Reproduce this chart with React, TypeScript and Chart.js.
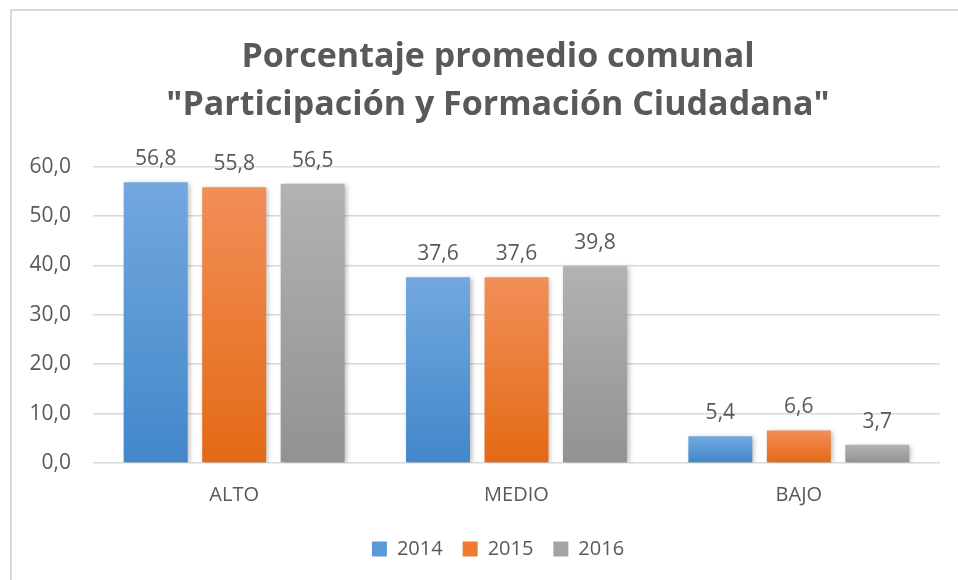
import React, { useEffect, useRef } from "react";
import { Chart, registerables } from "chart.js";

Chart.register(...registerables);

const categories = ["ALTO", "MEDIO", "BAJO"];
const seriesLabels = ["2014", "2015", "2016"];
const values2014 = [56.8, 37.6, 5.4];
const values2015 = [55.8, 37.6, 6.6];
const values2016 = [56.5, 39.8, 3.7];
const yTickValues = [0, 10, 20, 30, 40, 50, 60];
const titleLines = ["Porcentaje promedio comunal", "\"Participación y Formación Ciudadana\""];

const gradientStops = [
  ["#72A8DE", "#4287CA"],
  ["#F28E58", "#E36A15"],
  ["#B2B2B2", "#929292"],
];
const legendColors = ["#5A98D6", "#EE7B2E", "#A3A3A3"];

const TEXT = "#595959";
const GRID = "#d9d9d9";
const FONT = "'Open Sans', sans-serif";
const fmt = (v: number) => v.toFixed(1).replace(".", ",");

const barShadow = {
  id: "barShadow",
  beforeDatasetsDraw(chart: any) {
    const ctx = chart.ctx;
    ctx.save();
    ctx.shadowColor = "rgba(0,0,0,0.28)";
    ctx.shadowBlur = 5;
    ctx.shadowOffsetX = 2;
    ctx.shadowOffsetY = 1;
  },
  afterDatasetsDraw(chart: any) {
    chart.ctx.restore();
  },
};

const valueLabels = {
  id: "valueLabels",
  afterDatasetsDraw(chart: any) {
    const ctx = chart.ctx;
    ctx.save();
    ctx.font = `21px ${FONT}`;
    ctx.fillStyle = TEXT;
    ctx.textAlign = "center";
    ctx.textBaseline = "alphabetic";
    chart.data.datasets.forEach((ds: any, di: number) => {
      const meta = chart.getDatasetMeta(di);
      meta.data.forEach((bar: any, i: number) => {
        ctx.fillText(fmt(ds.data[i] as number), bar.x, bar.y - 17);
      });
    });
    ctx.restore();
  },
};

function makeBg(di: number) {
  return (c: any) => {
    const stops = gradientStops[di];
    const chart = c.chart;
    const y = chart.scales && chart.scales.y;
    if (c.type !== "data" || !y || !chart.chartArea) return stops[1];
    const top = y.getPixelForValue(c.raw);
    const bottom = y.getPixelForValue(0);
    if (!isFinite(top) || !isFinite(bottom) || Math.abs(bottom - top) < 0.5) return stops[1];
    const g = chart.ctx.createLinearGradient(0, top, 0, bottom);
    g.addColorStop(0, stops[0]);
    g.addColorStop(1, stops[1]);
    return g;
  };
}

export default function App() {
  const ref = useRef<HTMLCanvasElement | null>(null);

  useEffect(() => {
    if (!ref.current) return;
    const seriesValues = [values2014, values2015, values2016];
    const chart = new Chart(ref.current, {
      type: "bar",
      data: {
        labels: categories,
        datasets: seriesLabels.map((label, i) => ({
          label,
          data: seriesValues[i],
          backgroundColor: makeBg(i),
          borderWidth: 0,
          barPercentage: 0.815,
          categoryPercentage: 0.834,
        })),
      },
      options: {
        responsive: false,
        animation: false,
        devicePixelRatio: 1,
        layout: { padding: { top: 0, left: 56, right: 18, bottom: 11 } },
        plugins: {
          title: {
            display: true,
            text: titleLines,
            color: TEXT,
            font: { family: FONT, size: 34, weight: "bold", lineHeight: 1.42 },
            padding: { top: 33, bottom: 37 },
          },
          legend: {
            display: true,
            position: "bottom",
            labels: {
              boxWidth: 15,
              boxHeight: 15,
              padding: 20,
              color: TEXT,
              font: { family: FONT, size: 20 },
              generateLabels: (chart: any) =>
                chart.data.datasets.map((ds: any, i: number) => ({
                  text: ds.label,
                  fillStyle: legendColors[i],
                  strokeStyle: legendColors[i],
                  lineWidth: 0,
                  hidden: false,
                  datasetIndex: i,
                  fontColor: TEXT,
                })),
            },
          },
          tooltip: { enabled: false },
        },
        scales: {
          x: {
            grid: { display: false, drawTicks: false },
            border: { display: false },
            ticks: { color: TEXT, font: { family: FONT, size: 20 }, padding: 20 },
            afterFit: (s: any) => {
              s.height = 56;
            },
          },
          y: {
            min: 0,
            max: 60,
            afterBuildTicks: (s: any) => {
              s.ticks = yTickValues.map((v) => ({ value: v }));
            },
            grid: { color: GRID, lineWidth: 1.5, drawTicks: false },
            border: { display: false },
            ticks: {
              color: TEXT,
              font: { family: FONT, size: 21 },
              padding: 22,
              callback: (v: any) => fmt(Number(v)),
            },
            afterFit: (s: any) => {
              s.width = 37;
              s._computeLabelArea = () => undefined;
            },
          },
        },
      },
      plugins: [barShadow, valueLabels],
    });
    return () => chart.destroy();
  }, []);

  return (
    <div
      style={{
        position: "fixed",
        left: 0,
        top: 0,
        width: 958,
        height: 580,
        background: "#fff",
        overflow: "hidden",
      }}
    >
      <div
        style={{
          position: "absolute",
          left: 10,
          top: 9,
          width: 1000,
          height: 1000,
          borderTop: "2px solid #d9d9d9",
          borderLeft: "2px solid #d9d9d9",
        }}
      />
      <canvas
        ref={ref}
        width={958}
        height={580}
        style={{ position: "absolute", left: 0, top: 0, display: "block" }}
      />
    </div>
  );
}
